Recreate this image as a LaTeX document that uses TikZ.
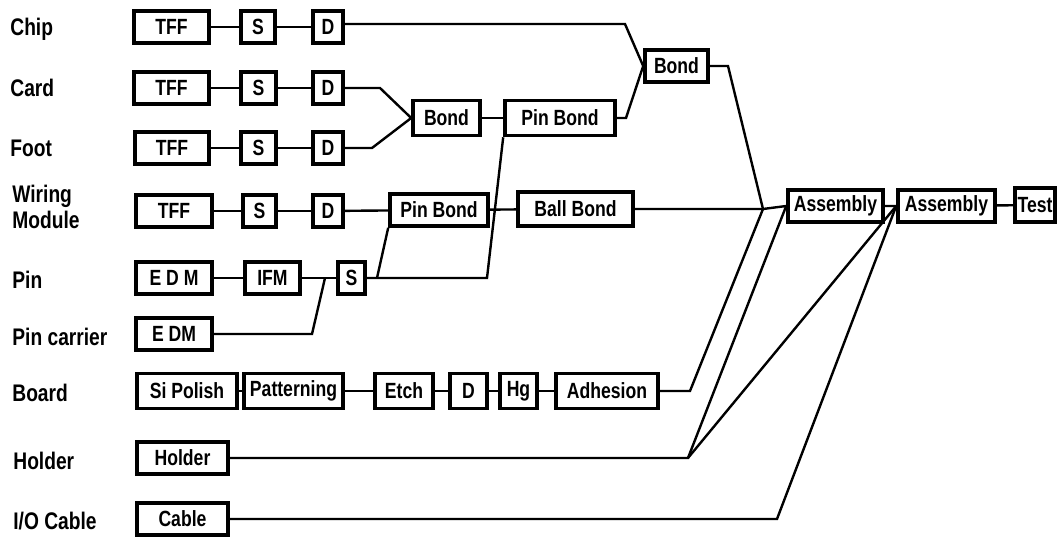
\documentclass[tikz,border=0pt]{standalone}
\usepackage{fontspec}
\setmainfont{Liberation Sans}[FakeStretch=0.8]
\usetikzlibrary{positioning}

\begin{document}
\begin{tikzpicture}[x=0.5pt, y=-0.5pt,
  stage/.style={draw, line width=1.8pt, inner sep=0pt, minimum height=16pt, font=\fontsize{11}{12}\selectfont\bfseries},
  part/.style={anchor=west, font=\fontsize{12}{13}\selectfont\bfseries, align=left, inner sep=0pt},
  link/.style={line width=1.2pt}]
  \useasboundingbox (0,0) rectangle (1057,540);

  % Part names
  \node[part] (lchip) at (10,29) {Chip};
  \node[part] (lcard) at (10,88) {Card};
  \node[part] (lfoot) at (10,148) {Foot};
  \node[part] (lwire) at (12,207) {Wiring\\Module};
  \node[part] (lpin) at (12,280) {Pin};
  \node[part] (lcarrier) at (12,337) {Pin carrier};
  \node[part] (lboard) at (12,393) {Board};
  \node[part] (lholder) at (13,461) {Holder};
  \node[part] (lcable) at (13,521) {I/O Cable};

  % Chip row
  \node[stage, minimum width=37.5pt] (chipT) at (171.5,27) {TFF};
  \node[stage, minimum width=17pt] (chipS) at (258,27) {S};
  \node[stage, minimum width=15pt] (chipD) at (328,27) {D};

  % Card row
  \node[stage, minimum width=37.5pt] (cardT) at (171.5,88) {TFF};
  \node[stage, minimum width=17.5pt] (cardS) at (258.5,88) {S};
  \node[stage, minimum width=15pt] (cardD) at (328,88) {D};

  % Foot row
  \node[stage, minimum width=37pt] (footT) at (172,148) {TFF};
  \node[stage, minimum width=17.5pt] (footS) at (258.5,148) {S};
  \node[stage, minimum width=15pt] (footD) at (328,148) {D};

  % Wiring module row
  \node[stage, minimum width=38pt] (wireT) at (174,211) {TFF};
  \node[stage, minimum width=16.5pt] (wireS) at (259.5,211) {S};
  \node[stage, minimum width=15pt] (wireD) at (328,211) {D};

  % Pin and pin carrier rows
  \node[stage, minimum width=38pt] (pinE) at (174,278) {E D M};
  \node[stage, minimum width=27.5pt] (pinI) at (272.5,278) {IFM};
  \node[stage, minimum width=13.5pt] (pinS) at (351.5,278) {S};
  \node[stage, minimum width=38pt] (carrierE) at (174,334) {E DM};

  % Board row
  \node[stage, minimum width=50pt, minimum height=17.5pt] (boardP) at (187,391) {Si Polish};
  \node[stage, minimum width=49.5pt, minimum height=17.5pt] (boardT) at (293.5,391) {Patterning};
  \node[stage, minimum width=29pt, minimum height=17.5pt] (boardE) at (404,391) {Etch};
  \node[stage, minimum width=18.5pt, minimum height=17.5pt] (boardD) at (468.5,391) {D};
  \node[stage, minimum width=18.5pt, minimum height=17.5pt] (boardH) at (518.5,391) {Hg};
  \node[stage, minimum width=51pt, minimum height=17.5pt] (boardA) at (607,391) {Adhesion};

  % Holder and cable rows
  \node[stage, minimum width=45.5pt] (holder) at (182.5,458) {Holder};
  \node[stage, minimum width=45.5pt] (cable) at (182.5,519) {Cable};

  % Bonding stages
  \node[stage, minimum width=33.5pt, minimum height=17.5pt] (bondA) at (446.5,118) {Bond};
  \node[stage, minimum width=55pt, minimum height=17.5pt] (pinbondA) at (560,118) {Pin Bond};
  \node[stage, minimum width=31.5pt] (bondB) at (676.5,66) {Bond};
  \node[stage, minimum width=49pt] (pinbondB) at (439,210) {Pin Bond};
  \node[stage, minimum width=57.5pt, minimum height=17pt] (ballbond) at (575.5,209) {Ball Bond};

  % Final stages
  \node[stage, minimum width=47.5pt] (asmA) at (835.5,206) {Assembly};
  \node[stage, minimum width=48.5pt] (asmB) at (946.5,206) {Assembly};
  \node[stage, minimum width=20pt, minimum height=17pt] (test) at (1035,205) {Test};

  % Bends and junctions
  \coordinate (chipbend) at (625,24);
  \coordinate (cardbend) at (380,88);
  \coordinate (footbend) at (372,148);
  \coordinate (pinbend) at (626,118);
  \coordinate (sbendA) at (377,278);
  \coordinate (sbendB) at (487,278);
  \coordinate (carrierbend) at (312,334);
  \coordinate (pinjoin) at (325,278);
  \coordinate (bondbend) at (728,66);
  \coordinate (asmjoin) at (763,209);
  \coordinate (boardbend) at (690,391);
  \coordinate (holderbend) at (688,458);
  \coordinate (cablebend) at (777,519);

  % Rows
  \draw[link] (chipT) -- (chipS) -- (chipD);
  \draw[link] (cardT) -- (cardS) -- (cardD);
  \draw[link] (footT) -- (footS) -- (footD);
  \draw[link] (wireT) -- (wireS) -- (wireD);
  \draw[link] (pinE) -- (pinI) -- (pinS);
  \draw[link] (carrierE) -- (carrierbend) -- (pinjoin);
  \draw[link] (boardP) -- (boardT) -- (boardE) -- (boardD) -- (boardH) -- (boardA);

  % Bonding
  \draw[link] (chipD.north east |- chipbend) -- (chipbend) -- (bondB.west);
  \draw[link] (cardD.east) -- (cardbend) -- (bondA.west);
  \draw[link] (footD.east) -- (footbend) -- (bondA.west);
  \draw[link] (bondA) -- (pinbondA);
  \draw[link] (pinbondA.east) -- (pinbend) -- (bondB.west);
  \draw[link] (pinS.east) -- (sbendB) -- (pinbondA.south west);
  \draw[link] (sbendA) -- (pinbondB.south west);
  \draw[link] (wireD) -- (pinbondB) -- (ballbond);

  % Assembly
  \draw[link] (ballbond.east) -- (asmjoin) -- (asmA.west);
  \draw[link] (bondB.east) -- (bondbend) -- (asmjoin);
  \draw[link] (boardA.east) -- (boardbend) -- (asmjoin);
  \draw[link] (holder.east) -- (holderbend) -- (asmA.west);
  \draw[link] (holderbend) -- (asmB.west);
  \draw[link] (cable.east) -- (cablebend) -- (asmB.west);
  \draw[link] (asmA) -- (asmB) -- (test);
\end{tikzpicture}
\end{document}
